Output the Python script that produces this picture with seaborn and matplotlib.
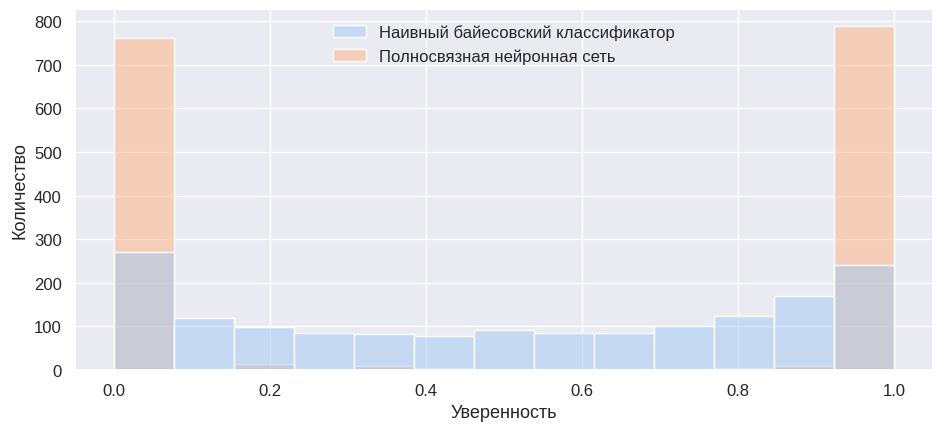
import numpy as np
import pandas as pd
import seaborn as sns
import matplotlib.pyplot as plt

# counts per bin (13 equal bins over [0, 1])
n_bins = 13
naive_bayes = [270, 120, 99, 86, 83, 78, 92, 85, 86, 101, 124, 170, 241]
neural_net = [762, 2, 14, 3, 10, 5, 3, 3, 2, 3, 5, 10, 788]

label_nb = "Наивный байесовский классификатор"
label_nn = "Полносвязная нейронная сеть"

centers = (np.arange(n_bins) + 0.5) / n_bins

df = pd.concat([
    pd.DataFrame({"Уверенность": centers, "count": naive_bayes, "model": label_nb}),
    pd.DataFrame({"Уверенность": centers, "count": neural_net, "model": label_nn}),
])

sns.set_theme(style="darkgrid", palette="pastel", font_scale=1.09)
plt.rcParams["font.family"] = ["Liberation Sans", "DejaVu Sans"]

fig, ax = plt.subplots(figsize=(9.45, 4.35), dpi=100)
sns.histplot(data=df, x="Уверенность", weights="count", hue="model",
             bins=n_bins, binrange=(0, 1), ax=ax)
ax.set_ylabel("Количество")
sns.move_legend(ax, "upper center", title=None, frameon=False)

fig.subplots_adjust(left=0.0794, right=0.9873, top=0.977, bottom=0.147)
fig.savefig("out.png")
